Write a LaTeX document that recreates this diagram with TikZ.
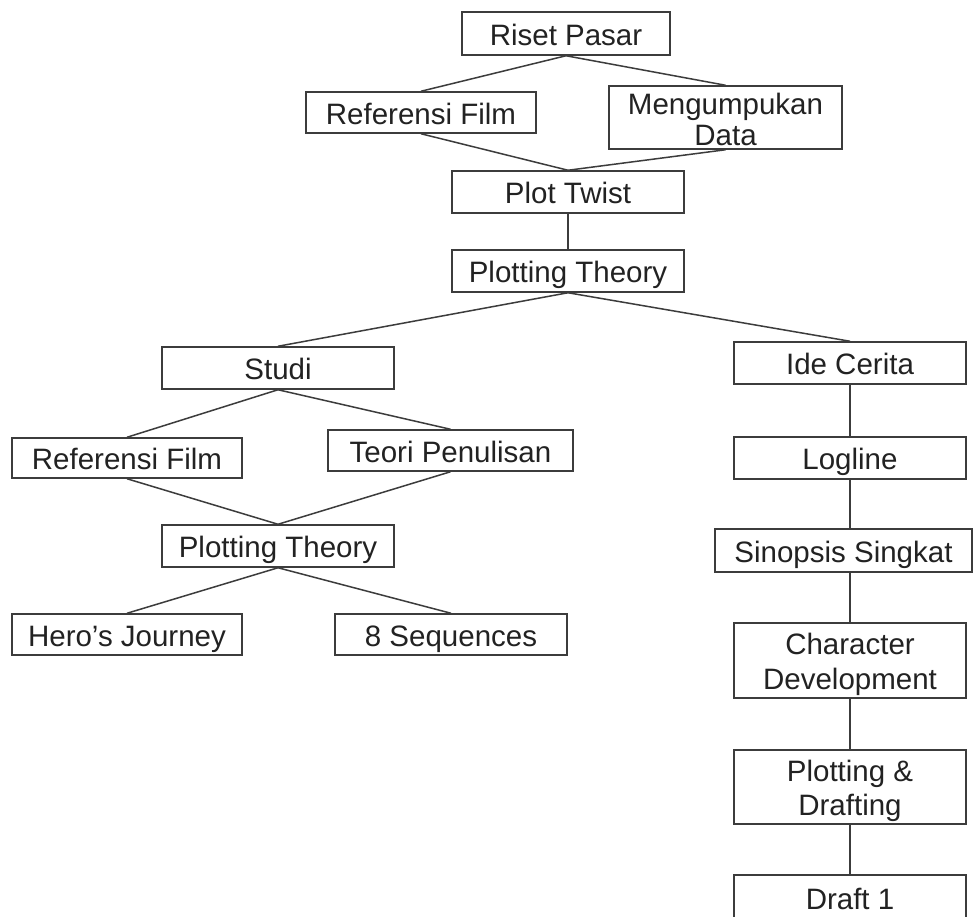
\documentclass[tikz,border=0pt]{standalone}
\usepackage{fontspec}
\setmainfont{Liberation Sans}
\definecolor{linec}{HTML}{3C3C3C}
\definecolor{textc}{HTML}{222222}
\begin{document}
\begin{tikzpicture}[x=1pt,y=-1pt,
  box/.style={draw=linec, line width=1.5pt, inner sep=0pt, align=center,
    text=textc, font=\fontsize{29.5}{33}\selectfont},
  one/.style={box, text height=23pt, text depth=0pt},
  conn/.style={draw=linec, line width=1.5pt}]
\useasboundingbox (0,0) rectangle (973,916);
\fill[white] (0,0) rectangle (973,916);
% top
\node[one, minimum width=208pt, minimum height=43pt] (riset) at (566,33.5) {Riset Pasar};
\node[one, minimum width=230pt, minimum height=41pt] (ref1) at (421,112.5) {Referensi Film};
\node[box, minimum width=233pt, minimum height=63pt] (data) at (725.5,117.5) {\rule{0pt}{26pt}Mengumpukan\\[-2pt]Data};
\node[one, minimum width=232pt, minimum height=42pt] (twist) at (568,192) {Plot Twist};
\node[one, minimum width=232pt, minimum height=42pt] (pt1) at (568,271) {Plotting Theory};
% left branch
\node[one, minimum width=232pt, minimum height=42pt] (studi) at (278,368) {Studi};
\node[one, minimum width=230pt, minimum height=40pt] (ref2) at (127,458) {Referensi Film};
\node[one, minimum width=245pt, minimum height=41pt] (teori) at (450.5,450.5) {Teori Penulisan};
\node[one, minimum width=232pt, minimum height=42pt] (pt2) at (278,546) {Plotting Theory};
\node[one, minimum width=230pt, minimum height=41pt] (hero) at (127,634.5) {Hero’s Journey};
\node[one, minimum width=232pt, minimum height=41pt] (seq) at (451,634.5) {8 Sequences};
% right branch
\node[one, minimum width=232pt, minimum height=42pt] (ide) at (850,363) {Ide Cerita};
\node[one, minimum width=232pt, minimum height=42pt] (log) at (850,458) {Logline};
\node[one, minimum width=257pt, minimum height=43pt] (sin) at (843.5,550.5) {Sinopsis Singkat};
\node[box, minimum width=232pt, minimum height=75pt] (char) at (850,660.5) {\rule{0pt}{29pt}Character\\[2pt]Development};
\node[box, minimum width=232pt, minimum height=74pt] (plotd) at (850,787) {\rule{0pt}{29pt}Plotting \&\\[1pt]Drafting};
\node[one, minimum width=232pt, minimum height=46pt] (draft) at (850,898) {Draft 1};
% connectors
\draw[conn] (riset.south) -- (ref1.north);
\draw[conn] (riset.south) -- (data.north);
\draw[conn] (ref1.south) -- (twist.north);
\draw[conn] (data.south) -- (twist.north);
\draw[conn] (twist.south) -- (pt1.north);
\draw[conn] (pt1.south) -- (studi.north);
\draw[conn] (pt1.south) -- (ide.north);
\draw[conn] (studi.south) -- (ref2.north);
\draw[conn] (studi.south) -- (teori.north);
\draw[conn] (ref2.south) -- (pt2.north);
\draw[conn] (teori.south) -- (pt2.north);
\draw[conn] (pt2.south) -- (hero.north);
\draw[conn] (pt2.south) -- (seq.north);
\draw[conn] (ide.south) -- (log.north);
\draw[conn] (log.south) -- (log.south |- sin.north);
\draw[conn] (log.south |- sin.south) -- (char.north);
\draw[conn] (char.south) -- (plotd.north);
\draw[conn] (plotd.south) -- (draft.north);
\end{tikzpicture}
\end{document}
